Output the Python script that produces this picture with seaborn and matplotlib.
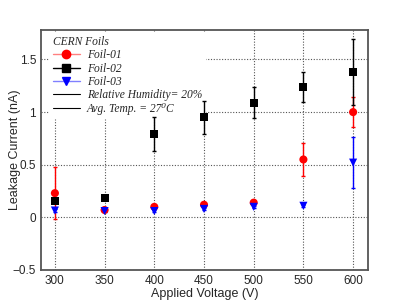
import numpy as np
import pandas as pd
import matplotlib
matplotlib.use("Agg")
import matplotlib.pyplot as plt
from matplotlib.lines import Line2D
from matplotlib.ticker import MultipleLocator
import seaborn as sns

# data
voltage = [300, 350, 400, 450, 500, 550, 600]
foil01 = [0.23, 0.07, 0.10, 0.12, 0.14, 0.55, 1.00]
foil01_err = [0.25, 0.01, 0.01, 0.01, 0.01, 0.16, 0.14]
foil02 = [0.155, 0.18, 0.79, 0.95, 1.09, 1.24, 1.38]
foil02_err = [0.01, 0.01, 0.16, 0.16, 0.15, 0.14, 0.31]
foil03 = [0.065, 0.06, 0.06, 0.08, 0.10, 0.11, 0.52]
foil03_err = [0.01, 0.01, 0.01, 0.01, 0.01, 0.01, 0.24]
labels = ["Foil-01", "Foil-02", "Foil-03"]

df = pd.DataFrame({
    "voltage": voltage * 3,
    "current": foil01 + foil02 + foil03,
    "err": foil01_err + foil02_err + foil03_err,
    "foil": [labels[0]] * 7 + [labels[1]] * 7 + [labels[2]] * 7,
})

sns.set_style("white")
plt.rcParams["font.family"] = ["Liberation Sans", "DejaVu Sans"]

colors = {"Foil-01": "#ff0000", "Foil-02": "#000000", "Foil-03": "#0000ff"}
markers = {"Foil-01": "o", "Foil-02": "s", "Foil-03": "v"}

fig = plt.figure(figsize=(4.09, 3.0), dpi=100)
ax = fig.add_axes([0.1002, 0.1, 0.7996, 0.8])

for name in labels:
    sub = df[df["foil"] == name]
    ax.errorbar(sub["voltage"], sub["current"], yerr=sub["err"], fmt="none",
                ecolor=colors[name], elinewidth=1.0, capsize=1.5, capthick=1.0, zorder=3)

sns.scatterplot(data=df, x="voltage", y="current", hue="foil", style="foil",
                palette=colors, markers=markers, s=34, edgecolor="none",
                legend=False, ax=ax, zorder=4)

ax.set_xlim(286, 615)
ax.set_ylim(-0.5, 1.78)
ax.xaxis.set_major_locator(MultipleLocator(50))
ax.xaxis.set_minor_locator(MultipleLocator(10))
ax.yaxis.set_major_locator(MultipleLocator(0.5))
ax.yaxis.set_minor_locator(MultipleLocator(0.1))
ax.set_yticks([-0.5, 0, 0.5, 1, 1.5])
ax.set_yticklabels(["\u22120.5", "0", "0.5", "1", "1.5"])
ax.tick_params(which="major", direction="in", length=8, width=0.8, color="#444444",
               labelsize=8.5, top=False, right=False)
ax.tick_params(which="minor", direction="in", length=4, width=0.8, color="#444444",
               top=False, right=False)
ax.grid(True, which="major", linestyle=(0, (1, 1.5)), color="#555555", linewidth=0.8)
for s in ax.spines.values():
    s.set_color("#555555")
    s.set_linewidth(1.3)

ax.set_xlabel("Applied Voltage (V)", fontsize=9, labelpad=1)
ax.set_ylabel("Leakage Current (nA)", fontsize=9)
ax.yaxis.set_label_coords(-0.062, 0.5)

handles = [
    Line2D([], [], color="#ff8080", marker="o", markerfacecolor="#ff0000",
           markeredgecolor="#ff0000", markersize=6, lw=1),
    Line2D([], [], color="#000000", marker="s", markersize=5.5, lw=1),
    Line2D([], [], color="#8080ff", marker="v", markerfacecolor="#0000ff",
           markeredgecolor="#0000ff", markersize=6, lw=1),
    Line2D([], [], color="#000000", lw=0.8),
    Line2D([], [], color="#000000", lw=0.8),
]
texts = labels + ["Relative Humidity= 20%", "Avg. Temp. = 27\u2070C"]
leg = ax.legend(handles, texts, title="CERN Foils", loc="upper left",
                bbox_to_anchor=(0.025, 0.99), frameon=True, fancybox=False,
                framealpha=1, edgecolor="white", handlelength=2.4, handletextpad=0.55,
                labelspacing=0.12, borderpad=0.3, borderaxespad=0.0,
                prop={"family": ["Liberation Serif", "DejaVu Serif"],
                      "style": "italic", "size": 8.3})
leg.get_title().set_fontfamily(["Liberation Serif", "DejaVu Serif"])
leg.get_title().set_fontstyle("italic")
leg.get_title().set_fontsize(8.3)
leg._legend_box.align = "left"
leg.set_zorder(2.5)

fig.savefig("out.png", dpi=100)
